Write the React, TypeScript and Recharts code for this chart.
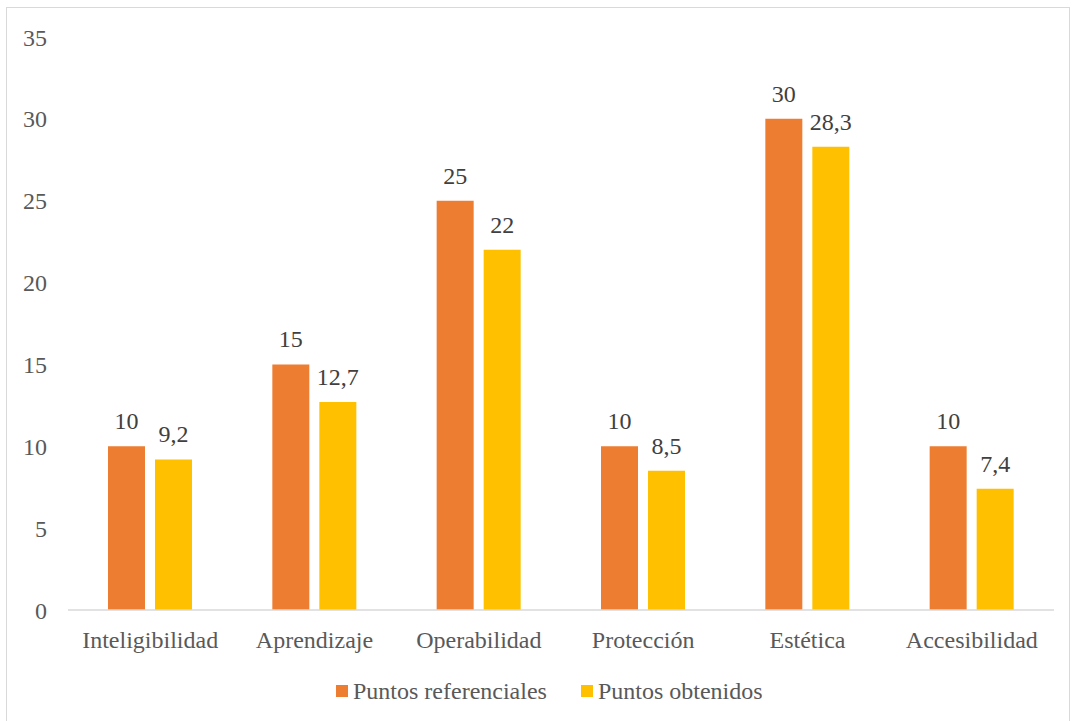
import React from 'react';
import {
  BarChart,
  Bar,
  XAxis,
  YAxis,
  Legend,
  LabelList,
} from 'recharts';

// Categories and values
const categories = [
  'Inteligibilidad',
  'Aprendizaje',
  'Operabilidad',
  'Protección',
  'Estética',
  'Accesibilidad',
];
const puntosReferenciales = [10, 15, 25, 10, 30, 10];
const puntosObtenidos = [9.2, 12.7, 22, 8.5, 28.3, 7.4];
const yTicks = [0, 5, 10, 15, 20, 25, 30, 35];
const seriesNames = ['Puntos referenciales', 'Puntos obtenidos'];

const data = categories.map((name, i) => ({
  name,
  referenciales: puntosReferenciales[i],
  obtenidos: puntosObtenidos[i],
}));

const FONT = 'Liberation Serif, DejaVu Serif, serif';
const ORANGE = '#ED7D31';
const YELLOW = '#FFC000';
const AXIS_TEXT = '#595959';
const LABEL_TEXT = '#404040';

const commaDecimal = (v: any) => String(v).replace('.', ',');

const ChartLegend = ({ payload }: any) => {
  // keep the series order, not alphabetical
  const items = [...(payload || [])].sort(
    (a: any, b: any) => seriesNames.indexOf(a.value) - seriesNames.indexOf(b.value)
  );
  return (
    <div
      style={{
        display: 'flex',
        alignItems: 'center',
        height: 24,
        fontFamily: FONT,
        fontSize: 24,
        lineHeight: '24px',
        color: AXIS_TEXT,
      }}
    >
      {items.map((item: any, i: number) => (
        <div
          key={item.value}
          style={{ display: 'flex', alignItems: 'center', marginRight: i === 0 ? 34 : 0 }}
        >
          <span
            style={{
              display: 'inline-block',
              width: 12,
              height: 12,
              background: item.color,
              marginRight: 5,
            }}
          />
          <span>{item.value}</span>
        </div>
      ))}
    </div>
  );
};

export default function App() {
  return (
    <div
      style={{
        position: 'absolute',
        left: 0,
        top: 0,
        width: 1076,
        height: 721,
        background: '#fff',
        overflow: 'hidden',
        fontFamily: FONT,
      }}
    >
      <div
        style={{
          position: 'absolute',
          left: 6,
          top: 7,
          width: 1062,
          height: 730,
          border: '1.5px solid #d9d9d9',
        }}
      />
      <BarChart
        width={1076}
        height={721}
        data={data}
        margin={{ top: 37, right: 22, left: 28, bottom: 37 }}
        barSize={37}
        barGap={10}
        style={{ fontFamily: FONT }}
      >
        <XAxis
          dataKey="name"
          height={50}
          tickSize={0}
          tickMargin={21}
          axisLine={{ stroke: '#d9d9d9', strokeWidth: 1.5 }}
          tick={{ fill: AXIS_TEXT, fontSize: 24, fontFamily: FONT }}
          interval={0}
        />
        <YAxis
          width={40}
          domain={[0, 35]}
          ticks={yTicks}
          axisLine={false}
          tickSize={0}
          tickMargin={21}
          tick={{ fill: AXIS_TEXT, fontSize: 24, fontFamily: FONT }}
        />
        <Legend
          verticalAlign="bottom"
          content={<ChartLegend />}
          wrapperStyle={{ left: 336, bottom: 18, width: 500, height: 24 }}
        />
        <Bar
          dataKey="referenciales"
          name={seriesNames[0]}
          fill={ORANGE}
          isAnimationActive={false}
        >
          <LabelList
            dataKey="referenciales"
            position="top"
            offset={17}
            formatter={commaDecimal}
            style={{ fill: LABEL_TEXT, fontSize: 24, fontFamily: FONT }}
          />
        </Bar>
        <Bar
          dataKey="obtenidos"
          name={seriesNames[1]}
          fill={YELLOW}
          isAnimationActive={false}
        >
          <LabelList
            dataKey="obtenidos"
            position="top"
            offset={17}
            formatter={commaDecimal}
            style={{ fill: LABEL_TEXT, fontSize: 24, fontFamily: FONT }}
          />
        </Bar>
      </BarChart>
    </div>
  );
}
